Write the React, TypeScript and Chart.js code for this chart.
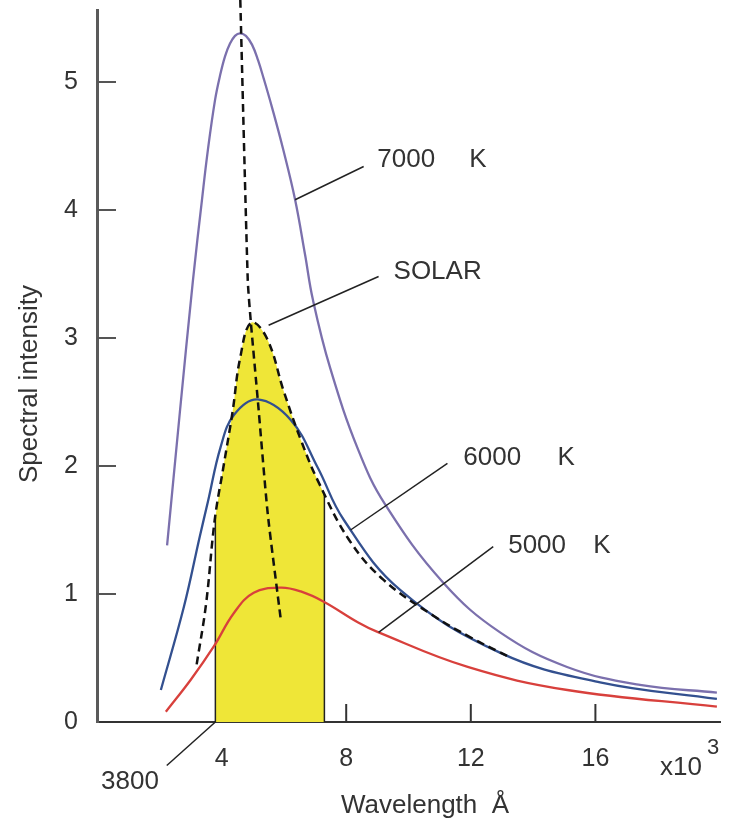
import React, { useEffect, useRef } from 'react';
import { Chart, registerables } from 'chart.js';

Chart.register(...registerables);

// Wavelength in units of 10^3 Å, spectral intensity (arbitrary units)
const xTickValues = [4, 8, 12, 16];
const yTickValues = [0, 1, 2, 3, 4, 5];
const xTickMarks = [8, 12, 16];
const yTickMarks = [1, 2, 3, 4, 5];

const k7000X = [2.25, 2.66, 3.08, 3.37, 3.56, 3.79, 3.95, 4.11, 4.27, 4.43, 4.59, 4.78, 4.98, 5.17, 5.36, 5.62, 5.97, 6.36, 6.68, 6.93, 7.48, 8.38, 9.25, 11.11, 12.94, 15.09, 17.43, 19.9];
const k7000Y = [1.38, 2.42, 3.45, 4.08, 4.47, 4.86, 5.05, 5.2, 5.3, 5.36, 5.38, 5.36, 5.29, 5.17, 5.02, 4.8, 4.48, 4.08, 3.65, 3.3, 2.77, 2.13, 1.7, 1.09, 0.7, 0.43, 0.29, 0.23];

const k6000X = [2.05, 2.79, 3.3, 3.56, 3.97, 4.4, 5.16, 6.22, 7.08, 7.92, 9.74, 12.95, 16.15, 19.9];
const k6000Y = [0.25, 0.9, 1.45, 1.72, 2.15, 2.4, 2.52, 2.36, 1.99, 1.58, 1.03, 0.54, 0.31, 0.18];

const k5000X = [2.21, 3.01, 3.75, 4.39, 5.03, 5.9, 6.54, 7.28, 8.37, 9.04, 11.9, 15.1, 19.9];
const k5000Y = [0.08, 0.33, 0.59, 0.85, 1.01, 1.05, 1.02, 0.94, 0.78, 0.7, 0.43, 0.25, 0.12];

const solarX = [3.2, 3.5, 3.78, 4.05, 4.35, 4.6, 4.95, 5.45, 6.0, 6.55, 7.1, 8.1, 9.2, 10.8, 12.0, 13.3];
const solarY = [0.45, 0.92, 1.58, 1.98, 2.42, 2.85, 3.12, 3.0, 2.58, 2.2, 1.88, 1.42, 1.11, 0.83, 0.66, 0.5];

// visible band 3800 – 7300 Å, under the solar curve
const visibleX = [3.8, 4.05, 4.35, 4.6, 4.95, 5.45, 6.0, 6.55, 7.1, 7.3];
const visibleY = [1.6, 1.98, 2.42, 2.85, 3.12, 3.0, 2.58, 2.2, 1.88, 1.78];

// Wien displacement (locus of peaks)
const wienX = [4.6, 4.84, 4.94, 5.16, 5.48, 5.9];
const wienY = [5.64, 3.45, 3.12, 2.52, 1.63, 0.8];

const zip = (xs: number[], ys: number[]) => xs.map((v, i) => ({ x: v, y: ys[i] }));

const leaders = [
  { x1: 6.36, y1: 4.08, x2: 8.56, y2: 4.34 },
  { x1: 5.51, y1: 3.1, x2: 9.04, y2: 3.48 },
  { x1: 8.14, y1: 1.5, x2: 11.25, y2: 2.02 },
  { x1: 9.04, y1: 0.7, x2: 12.72, y2: 1.37 },
  { x1: 3.8, y1: 0, x2: 2.24, y2: -0.34 },
];

const labels = [
  { text: '7000', x: 9.0, y: 4.39 },
  { text: 'K', x: 11.95, y: 4.39 },
  { text: 'SOLAR', x: 9.52, y: 3.52 },
  { text: '6000', x: 11.76, y: 2.06 },
  { text: 'K', x: 14.78, y: 2.06 },
  { text: '5000', x: 13.2, y: 1.38 },
  { text: 'K', x: 15.93, y: 1.38 },
];

const FONT = "'Liberation Sans', Arial, sans-serif";
const TEXT = '#333333';

const overlay = {
  id: 'overlay',
  afterDraw(chart: any) {
    const { ctx, chartArea, scales } = chart;
    const xs = scales.x;
    const ys = scales.y;
    const line = (a: number, b: number, c: number, d: number) => {
      ctx.beginPath();
      ctx.moveTo(a, b);
      ctx.lineTo(c, d);
      ctx.stroke();
    };
    ctx.save();
    // inward tick marks
    ctx.strokeStyle = '#555';
    ctx.lineWidth = 2;
    yTickMarks.forEach((v) => {
      const py = ys.getPixelForValue(v);
      line(chartArea.left, py, chartArea.left + 19, py);
    });
    ctx.strokeStyle = '#333';
    xTickMarks.forEach((v) => {
      const px = xs.getPixelForValue(v);
      line(px, chartArea.bottom, px, chartArea.bottom - 18);
    });
    // leader lines
    ctx.strokeStyle = '#222';
    ctx.lineWidth = 1.5;
    leaders.forEach((l) =>
      line(xs.getPixelForValue(l.x1), ys.getPixelForValue(l.y1), xs.getPixelForValue(l.x2), ys.getPixelForValue(l.y2))
    );
    // curve labels
    ctx.fillStyle = TEXT;
    ctx.font = `26px ${FONT}`;
    ctx.textAlign = 'left';
    ctx.textBaseline = 'middle';
    labels.forEach((t) => ctx.fillText(t.text, xs.getPixelForValue(t.x), ys.getPixelForValue(t.y)));
    // 3800
    ctx.textAlign = 'center';
    ctx.fillText('3800', 130, 782);
    // axis titles
    ctx.fillText('Wavelength  Å', 425, 806);
    ctx.textAlign = 'left';
    ctx.fillText('x10', 660, 768);
    ctx.font = `22px ${FONT}`;
    ctx.fillText('3', 707, 748);
    ctx.font = `26px ${FONT}`;
    ctx.translate(30, 384);
    ctx.rotate(-Math.PI / 2);
    ctx.textAlign = 'center';
    ctx.fillText('Spectral intensity', 0, 0);
    ctx.restore();
  },
};

export default function App() {
  const ref = useRef<HTMLCanvasElement | null>(null);
  useEffect(() => {
    if (!ref.current) return;
    const curve = (data: any[], color: string, extra: any = {}) => ({
      data,
      borderColor: color,
      borderWidth: 2.3,
      pointRadius: 0,
      fill: false,
      tension: 0.4,
      ...extra,
    });
    const chart = new Chart(ref.current, {
      type: 'line',
      data: {
        datasets: [
          curve(zip(wienX, wienY), '#111', { borderDash: [8, 5], borderWidth: 2.5, clip: false, tension: 0.2 }),
          curve(zip(solarX, solarY), '#111', { borderDash: [8, 5], borderWidth: 2.5 }),
          curve(zip(k7000X, k7000Y), '#7b70ad'),
          curve(zip(k6000X, k6000Y), '#33508f'),
          curve(zip(k5000X, k5000Y), '#d8403c'),
          curve([{ x: visibleX[0], y: 0 }, { x: visibleX[0], y: visibleY[0] }], '#222', { borderWidth: 1.5, tension: 0 }),
          curve([{ x: visibleX[visibleX.length - 1], y: 0 }, { x: visibleX[visibleX.length - 1], y: visibleY[visibleY.length - 1] }], '#222', { borderWidth: 1.5, tension: 0 }),
          curve(zip(visibleX, visibleY), 'rgba(0,0,0,0)', { borderWidth: 0, fill: 'origin', backgroundColor: '#efe637' }),
        ],
      },
      options: {
        animation: false,
        responsive: true,
        maintainAspectRatio: false,
        layout: { padding: { top: 10, right: 13, left: 0, bottom: 0 } },
        plugins: { legend: { display: false }, tooltip: { enabled: false } },
        scales: {
          x: {
            type: 'linear',
            min: 0,
            max: 20,
            grid: { display: false },
            border: { display: true, color: '#333', width: 2 },
            afterBuildTicks: (s: any) => {
              s.ticks = xTickValues.map((v) => ({ value: v }));
            },
            afterFit: (s: any) => {
              s.height = 105;
              s.paddingLeft = 0;
              s.paddingRight = 0;
            },
            ticks: {
              autoSkip: false,
              maxRotation: 0,
              padding: 14,
              color: TEXT,
              font: { family: FONT, size: 25 },
            },
          },
          y: {
            type: 'linear',
            min: 0,
            max: 5.5625,
            grid: { display: false },
            border: { display: true, color: '#5a5a5a', width: 3 },
            afterBuildTicks: (s: any) => {
              s.ticks = yTickValues.map((v) => ({ value: v }));
            },
            afterFit: (s: any) => {
              s.width = 97;
              s.paddingTop = 0;
              s.paddingBottom = 0;
            },
            ticks: {
              padding: 11,
              color: TEXT,
              font: { family: FONT, size: 25 },
            },
          },
        },
      },
      plugins: [overlay],
    } as any);
    return () => chart.destroy();
  }, []);
  return (
    <div style={{ position: 'fixed', left: 0, top: 0, width: 733, height: 827, background: '#fff' }}>
      <canvas ref={ref} />
    </div>
  );
}
